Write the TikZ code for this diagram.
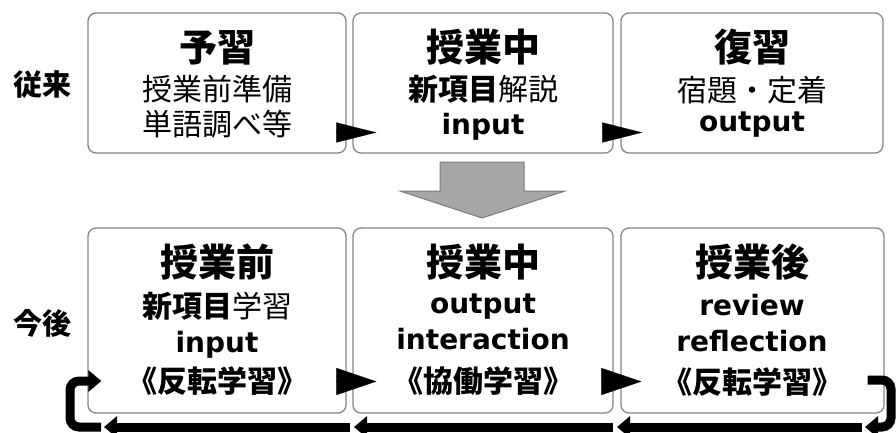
\documentclass[tikz,border=0pt]{standalone}
\usepackage{fontspec}
\setmainfont{DejaVu Sans}
\newfontfamily\jp{Noto Sans CJK JP}
\usetikzlibrary{arrows.meta,calc}
\definecolor{boxgray}{HTML}{858585}
\definecolor{bigfill}{HTML}{A6A6A6}
\definecolor{bigedge}{HTML}{7A7A7A}
\begin{document}
\begin{tikzpicture}[x=1pt,y=-1pt,
  box/.style={draw=boxgray, line width=1.3pt, rounded corners=8pt, fill=white, inner sep=0pt},
  ttl/.style={font=\jp\bfseries\fontsize{38}{42}\selectfont, inner sep=0pt},
  sub/.style={font=\jp\fontsize{30}{34}\selectfont, inner sep=0pt},
  lat/.style={font=\bfseries\fontsize{28}{32}\selectfont, inner sep=0pt},
  side/.style={font=\jp\bfseries\fontsize{29}{32}\selectfont, inner sep=0pt},
  tri/.style={-{Triangle[length=40pt,width=#1]}, line width=0.2pt, black},
  chain/.style={line width=9pt, rounded corners=9pt, -{Triangle[length=13pt,width=21pt]}}
]
\useasboundingbox (0,0) rectangle (896,432);

% row labels
\node[side] (l1) at (42,85) {従来};
\node[side] (l2) at (42,323) {今後};

% top boxes
\node[box, minimum width=258pt, minimum height=140pt] (b1) at (217,83) {};
\node[box, minimum width=260pt, minimum height=140pt] (b2) at (483,83) {};
\node[box, minimum width=262pt, minimum height=140pt] (b3) at (752,83) {};

% bottom boxes
\node[box, minimum width=258pt, minimum height=185pt] (c1) at (217,320.5) {};
\node[box, minimum width=260pt, minimum height=185pt] (c2) at (483,320.5) {};
\node[box, minimum width=263pt, minimum height=185pt] (c3) at (752.5,320.5) {};

% top texts
\node[ttl] (t11) at (217,47.5) {予習};
\node[sub] (t12) at (217,89.5) {授業前準備};
\node[sub] (t13) at (217,124) {単語調べ等};
\node[ttl] (t21) at (483,47.5) {授業中};
\node[sub] (t22) at (483,89.5) {{\bfseries 新項目}解説};
\node[lat] (t23) at (483,126.5) {input};
\node[ttl] (t31) at (752,47.5) {復習};
\node[sub] (t32) at (752,90) {宿題・定着};
\node[lat] (t33) at (752,125) {output};

% bottom texts
\node[ttl] (u11) at (217,262) {授業前};
\node[sub] (u12) at (217,306) {{\bfseries 新項目}学習};
\node[lat] (u13) at (217,344.5) {input};
\node[sub, font=\jp\bfseries\fontsize{30}{34}\selectfont] (u14) at (217,381.5) {《反転学習》};
\node[ttl] (u21) at (483,262) {授業中};
\node[lat] (u22) at (483,306.5) {output};
\node[lat] (u23) at (483,339) {interaction};
\node[sub, font=\jp\bfseries\fontsize{30}{34}\selectfont] (u24) at (483,381) {《協働学習》};
\node[ttl] (u31) at (752,262) {授業後};
\node[lat] (u32) at (752,305) {review};
\node[lat] (u33) at (752,341) {reflection};
\node[sub, font=\jp\bfseries\fontsize{30}{34}\selectfont] (u34) at (752,382) {《反転学習》};

% big gray arrow
\filldraw[fill=bigfill, draw=bigedge, line width=1pt]
  (440,162) -- (524,162) -- (524,191) -- (565,191) -- (482,218) -- (400,191) -- (440,191) -- cycle;

% small triangle connectors
\draw[tri=20pt] ($(b1.east)+(-11,49.5)$) -- ($(b2.west)+(24,49.5)$);
\draw[tri=20pt] ($(b2.east)+(-10,49.5)$) -- ($(b3.west)+(22,49.5)$);
\draw[tri=27pt] ($(c1.east)+(-11,61)$) -- ($(c2.west)+(24,61)$);
\draw[tri=27pt] ($(c2.east)+(-10,61)$) -- ($(c3.west)+(21,61)$);

% bottom feedback chain
\coordinate (r0) at ($(c3.east)+(-17,59.5)$);
\coordinate (r1) at (891,380);
\coordinate (r2) at (891,427);
\coordinate (r3) at (865,427);
\coordinate (m3) at (862,427);
\coordinate (m2) at (617,427);
\coordinate (m1) at (613,427);
\coordinate (m0) at (354,427);
\coordinate (n1) at (350,427);
\coordinate (n0) at (104,427);
\coordinate (k0) at (101,427);
\coordinate (k1) at (70,427);
\coordinate (k2) at (70,381);
\coordinate (k3) at ($(c1.west)+(14,60.5)$);

\draw[chain] (r0) -- (r1) -- (r2) -- (r3);
\draw[chain] (m3) -- (m2);
\draw[chain] (m1) -- (m0);
\draw[chain] (n1) -- (n0);
\draw[chain] (k0) -- (k1) -- (k2) -- (k3);
\end{tikzpicture}
\end{document}
